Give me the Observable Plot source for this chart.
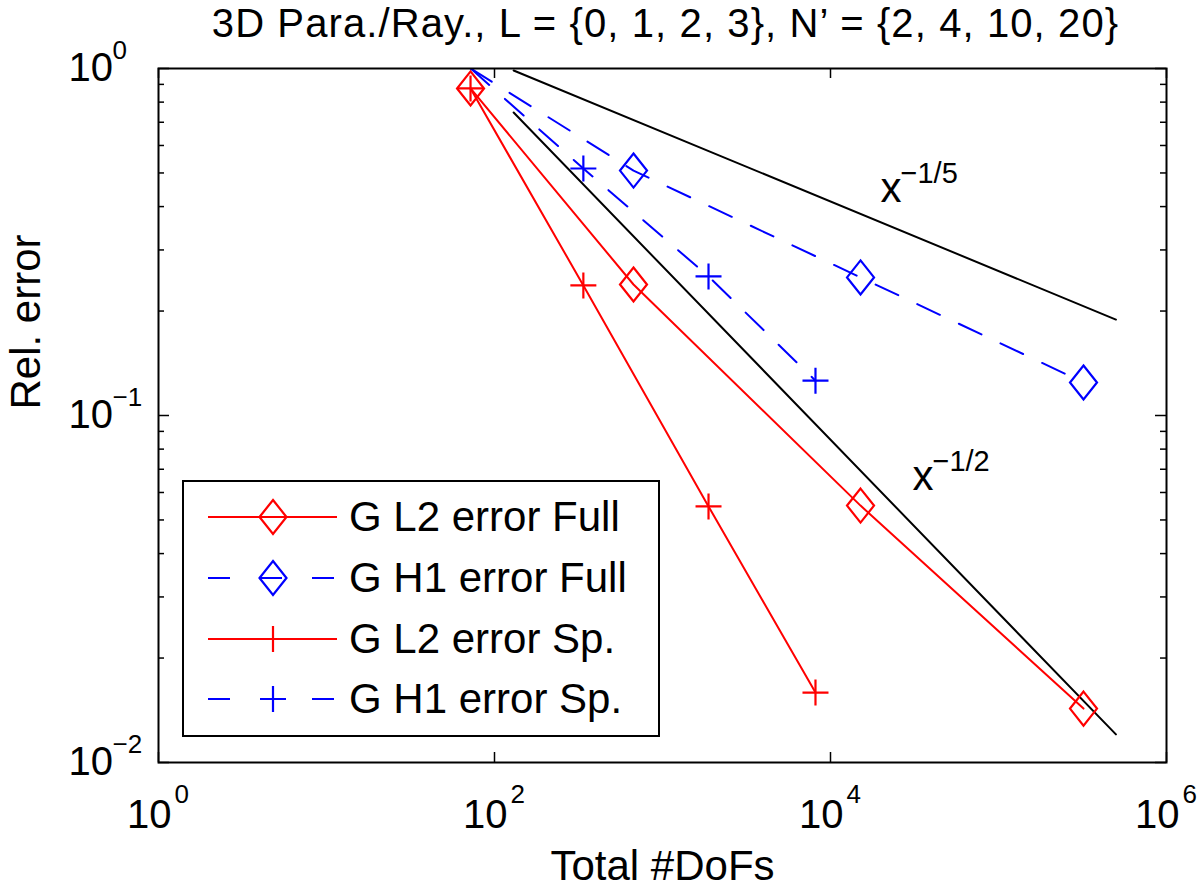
<!DOCTYPE html>
<html><head><meta charset="utf-8">
<script src="https://cdn.jsdelivr.net/npm/d3@7"></script>
<script src="https://cdn.jsdelivr.net/npm/@observablehq/plot@0.6"></script>
<style>
body{margin:0;background:#fff;font-family:"Liberation Sans",Arial,sans-serif;}
#wrap{position:relative;width:1200px;height:890px;overflow:hidden;}
#legend{position:absolute;left:182px;top:480px;width:474px;height:253px;border:2px solid #000;background:#fff;}
.row{position:absolute;left:0;height:40px;width:470px;}
.row svg{position:absolute;left:20px;top:0;}
.row span{position:absolute;left:165px;top:0;font-size:42px;line-height:40px;white-space:nowrap;color:#000;}
</style></head>
<body><div id="wrap"></div>
<script>
// ---- data ----
const dofsFull   = [72, 672, 15090, 320600];
const dofsSparse = [72, 338, 1879, 8140];
const l2Full   = [0.876, 0.2385, 0.0550, 0.0143];
const h1Full   = [1.001, 0.508, 0.250, 0.1245];
const l2Sparse = [0.876, 0.237, 0.0547, 0.0159];
const h1Sparse = [1.001, 0.515, 0.2516, 0.126];
const seriesNames = ["G L2 error Full", "G H1 error Full", "G L2 error Sp.", "G H1 error Sp."];
const seriesColors = ["#ff0000", "#0000ff", "#ff0000", "#0000ff"];
const seriesMarkers = ["diamond", "diamond", "plus", "plus"];
const seriesDashed = [false, true, false, true];

const refDofs  = [130, 500000];
const refFifth = [0.987, 0.189];
const refHalf  = [0.7465, 0.01205];
const refBase = ["x", "x"];
const refExp  = ["\u22121/5", "\u22121/2"];
const refLabelX = [19860, 30760];
const refLabelY = [0.4137, 0.0608];

const xTicks = [1, 100, 1e4, 1e6];
const xTickExp = ["0", "2", "4", "6"];
const yTicks = [0.01, 0.1, 1];
const yTickExp = ["\u22122", "\u22121", "0"];
const yMinor = [0.02,0.03,0.04,0.05,0.06,0.07,0.08,0.09,0.2,0.3,0.4,0.5,0.6,0.7,0.8,0.9];

const titleText = "3D Para./Ray., L = {0, 1, 2, 3}, N\u2019 = {2, 4, 10, 20}";
const xLabel = "Total #DoFs";
const yLabel = "Rel. error";

// ---- build tables ----
const seriesX = [dofsFull, dofsFull, dofsSparse, dofsSparse];
const seriesY = [l2Full, h1Full, l2Sparse, h1Sparse];
const rows = [];
seriesNames.forEach((name, i) => {
  seriesX[i].forEach((x, j) => rows.push({series: name, x, y: seriesY[i][j], color: seriesColors[i], marker: seriesMarkers[i], dashed: seriesDashed[i]}));
});
const refRows = [];
refDofs.forEach((x, j) => { refRows.push({k: "fifth", x, y: refFifth[j]}); refRows.push({k: "half", x, y: refHalf[j]}); });
const refLabels = refBase.map((b, i) => ({base: b, exp: refExp[i], x: refLabelX[i], y: refLabelY[i]}));
const xTickData = xTicks.map((v, i) => ({v, e: xTickExp[i]}));
const yTickData = yTicks.map((v, i) => ({v, e: yTickExp[i]}));

const diamond = {draw(ctx, size) { const r = Math.sqrt(size / Math.PI); const h = r * 1.26;
  ctx.moveTo(0, -h); ctx.lineTo(r, 0); ctx.lineTo(0, h); ctx.lineTo(-r, 0); ctx.closePath(); }};
const plus = {draw(ctx, size) { const r = Math.sqrt(size / Math.PI);
  ctx.moveTo(-r, 0); ctx.lineTo(r, 0); ctx.moveTo(0, -r); ctx.lineTo(0, r); }};

const FW = 1200 - 158 - 34, FH = 890 - 68 - 128;
const visible = rows.filter(d => d.y <= 1);

const marks = [];
seriesNames.forEach((name, i) => {
  marks.push(Plot.line(rows.filter(d => d.series === name), {x: "x", y: "y", stroke: seriesColors[i], strokeWidth: 2,
    strokeDasharray: seriesDashed[i] ? "25,21" : null, clip: true}));
});
marks.push(Plot.line(refRows, {x: "x", y: "y", z: "k", stroke: "black", strokeWidth: 2, clip: true}));
marks.push(Plot.dot(visible.filter(d => d.marker === "diamond"), {x: "x", y: "y", symbol: diamond, r: 13.5, fill: "none", stroke: "color", strokeWidth: 2.2}));
marks.push(Plot.dot(visible.filter(d => d.marker === "plus"), {x: "x", y: "y", symbol: plus, r: 13, fill: "none", stroke: "color", strokeWidth: 2.2}));
// ref labels
marks.push(Plot.text(refLabels, {x: "x", y: "y", text: "base", textAnchor: "start", lineAnchor: "bottom", fontSize: 42}));
marks.push(Plot.text(refLabels, {x: "x", y: "y", text: "exp", textAnchor: "start", lineAnchor: "bottom", fontSize: 29, dx: 20, dy: -19}));
// frame & inward ticks
marks.push(Plot.frame({stroke: "black", strokeWidth: 2}));
marks.push(Plot.tickX(xTicks, {x: d => d, insetTop: FH - 10, stroke: "black", strokeWidth: 1.5}));
marks.push(Plot.tickX(xTicks, {x: d => d, insetBottom: FH - 10, stroke: "black", strokeWidth: 1.5}));
marks.push(Plot.tickY(yTicks, {y: d => d, insetRight: FW - 11, stroke: "black", strokeWidth: 1.5}));
marks.push(Plot.tickY(yTicks, {y: d => d, insetLeft: FW - 11, stroke: "black", strokeWidth: 1.5}));
marks.push(Plot.tickY(yMinor, {y: d => d, insetRight: FW - 6, stroke: "black", strokeWidth: 1.5}));
marks.push(Plot.tickY(yMinor, {y: d => d, insetLeft: FW - 6, stroke: "black", strokeWidth: 1.5}));
// tick labels
marks.push(Plot.text(xTickData, {x: "v", text: () => "10", frameAnchor: "bottom", textAnchor: "end", lineAnchor: "bottom", dx: 13, dy: 65, fontSize: 40}));
marks.push(Plot.text(xTickData, {x: "v", text: "e", frameAnchor: "bottom", textAnchor: "start", lineAnchor: "bottom", dx: 16, dy: 40, fontSize: 26}));
marks.push(Plot.text(yTickData, {y: "v", text: () => "10", frameAnchor: "left", textAnchor: "start", lineAnchor: "middle", dx: -90, fontSize: 40}));
marks.push(Plot.text(yTickData, {y: "v", text: "e", frameAnchor: "left", textAnchor: "start", lineAnchor: "bottom", dx: -46, dy: -10, fontSize: 26}));
// title and axis labels
marks.push(Plot.text([titleText], {text: d => d, frameAnchor: "top", lineAnchor: "bottom", dy: -32, dx: 3, fontSize: 40}));
marks.push(Plot.text([xLabel], {text: d => d, frameAnchor: "bottom", lineAnchor: "bottom", dy: 117, fontSize: 42}));
marks.push(Plot.text([yLabel], {text: d => d, frameAnchor: "left", lineAnchor: "bottom", rotate: -90, dx: -119, dy: -6, fontSize: 42}));

const chart = Plot.plot({
  width: 1200, height: 890,
  marginTop: 68, marginLeft: 158, marginRight: 34, marginBottom: 128,
  x: {type: "log", domain: [1, 1e6], axis: null},
  y: {type: "log", domain: [0.01, 1], axis: null},
  style: {fontFamily: "'Liberation Sans', Arial, sans-serif", background: "white", color: "black", overflow: "visible"},
  marks
});
// widen the title's letter spacing to match the reference's wider face
d3.select(chart).selectAll("text").filter(function() { return this.textContent === titleText; })
  .attr("letter-spacing", "1.1px");
const wrap = document.getElementById("wrap");
wrap.appendChild(chart);

// ---- legend (HTML overlay) ----
const legend = document.createElement("div");
legend.id = "legend";
const rowCenters = [35, 96, 157, 217];
seriesNames.forEach((name, i) => {
  const row = document.createElement("div");
  row.className = "row";
  row.style.top = (rowCenters[i] - 20) + "px";
  const svg = d3.create("svg").attr("width", 140).attr("height", 40);
  svg.append("line").attr("x1", 4).attr("x2", 133).attr("y1", 20).attr("y2", 20)
    .attr("stroke", seriesColors[i]).attr("stroke-width", 2)
    .attr("stroke-dasharray", seriesDashed[i] ? "22,30" : null);
  const p = d3.path();
  (seriesMarkers[i] === "diamond" ? diamond : plus).draw(p, Math.PI * (seriesMarkers[i] === "diamond" ? 13.5 : 13) ** 2);
  svg.append("path").attr("transform", "translate(69,20)").attr("d", p.toString())
    .attr("fill", "none").attr("stroke", seriesColors[i]).attr("stroke-width", 2.2);
  row.appendChild(svg.node());
  const span = document.createElement("span");
  span.textContent = name;
  row.appendChild(span);
  legend.appendChild(row);
});
wrap.appendChild(legend);
</script>
</body></html>
